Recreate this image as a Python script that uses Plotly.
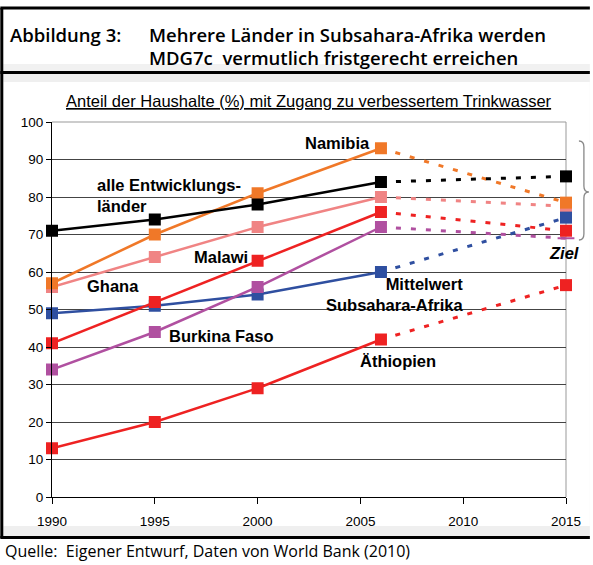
import plotly.graph_objects as go

# data
years = [1990, 1995, 2000, 2006]
target_year = 2015

series_names = ['Mittelwert Subsahara-Afrika', 'Ghana', 'Namibia', 'alle Entwicklungsländer',
	'Burkina Faso', 'Malawi', 'Äthiopien']
series_values = {
	'Mittelwert Subsahara-Afrika': [49, 51, 54, 60],
	'Ghana': [56, 64, 72, 80],
	'Namibia': [57, 70, 81, 93],
	'alle Entwicklungsländer': [71, 74, 78, 84],
	'Burkina Faso': [34, 44, 56, 72],
	'Malawi': [41, 52, 63, 76],
	'Äthiopien': [13, 20, 29, 42],
}
target_values = {
	'Mittelwert Subsahara-Afrika': 74.5,
	'Ghana': 77.5,
	'Namibia': 78.5,
	'alle Entwicklungsländer': 85.5,
	'Burkina Faso': 69,
	'Malawi': 71,
	'Äthiopien': 56.5,
}
target_order = ['Ghana', 'Namibia', 'Mittelwert Subsahara-Afrika', 'alle Entwicklungsländer',
	'Burkina Faso', 'Malawi', 'Äthiopien']
colors = {
	'Mittelwert Subsahara-Afrika': '#2f4fa0',
	'Ghana': '#f08484',
	'Namibia': '#f07828',
	'alle Entwicklungsländer': '#000000',
	'Burkina Faso': '#b050a0',
	'Malawi': '#ee2222',
	'Äthiopien': '#ee2222',
}
x_ticks = [1990, 1995, 2000, 2005, 2010, 2015]
y_ticks = [0, 10, 20, 30, 40, 50, 60, 70, 80, 90, 100]

W, H = 593, 565
PL, PR, PT, PB = 52, 569, 122, 497

def px(x):
	return (x - PL)/(PR - PL)

def py(y):
	return (PB - y)/(PB - PT)

fig = go.Figure()

for name in series_names:
	c = colors[name]
	# projection to 2015 ---
	fig.add_trace(go.Scatter(
		x = [years[-1], target_year],
		y = [series_values[name][-1], target_values[name]],
		mode = 'lines',
		line = dict(color = c, width = 3, dash = '5px,10px'),
		cliponaxis = False,
		showlegend = False,
	))
	# measured values ---
	fig.add_trace(go.Scatter(
		x = years,
		y = series_values[name],
		mode = 'lines+markers',
		line = dict(color = c, width = 2.5),
		marker = dict(symbol = 'square', size = 12, color = c, line = dict(width = 0)),
		cliponaxis = False,
		showlegend = False,
	))

# target markers on top ---
for name in target_order:
	c = colors[name]
	if name == 'Burkina Faso':
		target_marker = dict(symbol = 'line-ew', size = 12, color = c, line = dict(color = c, width = 2))
	else:
		target_marker = dict(symbol = 'square', size = 12, color = c, line = dict(width = 0))
	fig.add_trace(go.Scatter(
		x = [target_year],
		y = [target_values[name]],
		mode = 'markers',
		marker = target_marker,
		cliponaxis = False,
		showlegend = False,
	))

label_font = dict(family = 'Liberation Sans', size = 16.5, color = 'black')
labels = [
	('<b>Namibia</b>', 2002.2, 94.4, 'left', 'left'),
	('<b>alle Entwicklungs-<br>länder</b>', 1992.1, 80.3, 'left', 'left'),
	('<b>Malawi</b>', 1996.8, 64, 'left', 'left'),
	('<b>Ghana</b>', 1991.6, 56.3, 'left', 'left'),
	('<b>Mittelwert<br>Subsahara-Afrika</b>', 2010.1, 54.1, 'right', 'right'),
	('<b>Burkina Faso</b>', 1995.6, 42.9, 'left', 'left'),
	('<b>Äthiopien</b>', 2004.9, 36.3, 'left', 'left'),
	('<b><i>Ziel</i></b>', 2014.9, 65, 'center', 'center'),
]
for text, lx, ly, xa, al in labels:
	fig.add_annotation(x = lx, y = ly, text = text, showarrow = False, xanchor = xa, align = al,
		yanchor = 'middle', font = label_font)

# subtitle of the chart
fig.add_annotation(xref = 'paper', yref = 'paper', x = px(310), y = py(101),
	text = '<u>Anteil der Haushalte (%) mit Zugang zu verbessertem Trinkwasser</u>',
	showarrow = False, xanchor = 'center', yanchor = 'middle',
	font = dict(family = 'Liberation Sans', size = 16.5, color = 'black'))

# figure caption and source
title_font = dict(family = 'Open Sans', size = 18.5, color = 'black', weight = 600)
for text, tx, ty in [('Abbildung 3:', 8, 34), ('Mehrere Länder in Subsahara-Afrika werden', 148, 34),
		('MDG7c  vermutlich fristgerecht erreichen', 148, 57)]:
	fig.add_annotation(xref = 'paper', yref = 'paper', x = px(tx), y = py(ty), text = text,
		showarrow = False, xanchor = 'left', yanchor = 'middle', font = title_font)
fig.add_annotation(xref = 'paper', yref = 'paper', x = px(3), y = py(551),
	text = 'Quelle:  Eigener Entwurf, Daten von World Bank (2010)', showarrow = False,
	xanchor = 'left', yanchor = 'middle', font = dict(family = 'Open Sans', size = 16, color = 'black'))

shapes = []
def rect(x0, y0, x1, y1, fill, layer = 'below'):
	shapes.append(dict(type = 'rect', xref = 'paper', yref = 'paper', x0 = px(x0), x1 = px(x1),
		y0 = py(y0), y1 = py(y1), fillcolor = fill, line = dict(width = 0), layer = layer))

def line(x0, y0, x1, y1, color = 'black', width = 3, layer = 'above'):
	shapes.append(dict(type = 'line', xref = 'paper', yref = 'paper', x0 = px(x0), x1 = px(x1),
		y0 = py(y0), y1 = py(y1), line = dict(color = color, width = width), layer = layer))

rect(3, 64, 593, 71, '#f1f1f1')
rect(3, 74, 593, 537, '#efefef')
rect(3, 82, 593, 526, 'white')
line(0, 8, 593, 8)
line(1.5, 8, 1.5, 538)
line(0, 72.5, 593, 72.5)
line(0, 537.5, 593, 537.5)
# grey frame at top and right of the plot area
line(PL, PT, PR, PT, color = '#999999', width = 1, layer = 'below')
line(PR, PT, PR, PB, color = '#999999', width = 1, layer = 'below')

# brace next to the targets
bp = [(582, 141), (587, 141), (587, 147), (587, 186), (587, 192), (592, 192), (587, 192), (587, 198),
	(587, 234), (587, 240), (582, 240)]
p = [f'{px(a):.5f},{py(b):.5f}' for a, b in bp]
path = f'M {p[0]} Q {p[1]} {p[2]} L {p[3]} Q {p[4]} {p[5]} Q {p[6]} {p[7]} L {p[8]} Q {p[9]} {p[10]}'
shapes.append(dict(type = 'path', xref = 'paper', yref = 'paper', path = path,
	line = dict(color = '#888888', width = 1.3), layer = 'above'))

fig.update_layout(
	width = W,
	height = H,
	margin = dict(l = PL, r = W - PR, t = PT, b = H - PB, pad = 0),
	paper_bgcolor = 'white',
	plot_bgcolor = 'rgba(0,0,0,0)',
	showlegend = False,
	shapes = shapes,
	font = dict(family = 'Liberation Sans', size = 13, color = 'black'),
)
fig.update_xaxes(
	range = [1990, 2015],
	tickvals = x_ticks,
	ticks = 'outside',
	ticklen = 6,
	tickcolor = 'black',
	showline = True,
	linecolor = 'black',
	linewidth = 1,
	showgrid = False,
	zeroline = False,
	ticklabelstandoff = 6,
	tickfont = dict(family = 'Liberation Sans', size = 13.5, color = 'black'),
)
fig.update_yaxes(
	range = [0, 100],
	tickvals = y_ticks,
	ticks = 'outside',
	ticklen = 5,
	tickcolor = 'black',
	showline = True,
	linecolor = 'black',
	linewidth = 1,
	showgrid = True,
	gridcolor = '#444444',
	gridwidth = 1,
	zeroline = False,
	tickfont = dict(family = 'Liberation Sans', size = 13.5, color = 'black'),
)

fig.write_html('out.html', config = dict(displayModeBar = False),
	post_script = "document.body.style.margin = '0';")
